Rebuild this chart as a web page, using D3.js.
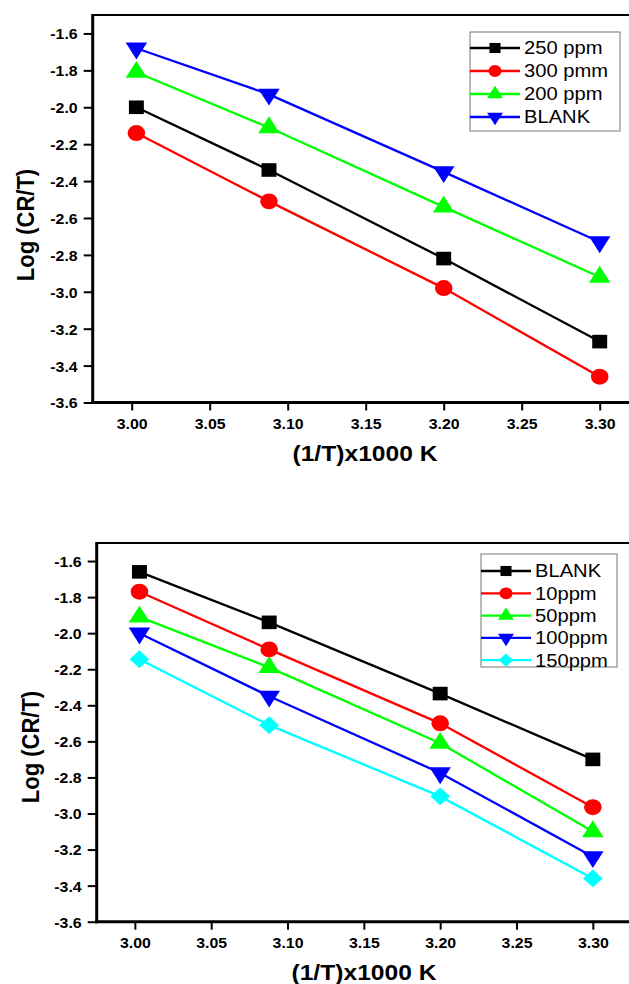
<!DOCTYPE html>
<html lang="en">
<head>
  <meta charset="UTF-8">
  <title>Log (CR/T) vs 1/T</title>
  <script src="https://d3js.org/d3.v7.min.js"></script>
  <style>
    body { margin: 0; background: #fff; }
    text { font-family: "Liberation Sans", Arial, sans-serif; }
  </style>
</head>
<body>
  <div id="root"></div>
  <script>
    // data
    const xValues = [3.003, 3.088, 3.2, 3.3]
    const xTicks = [3.00, 3.05, 3.10, 3.15, 3.20, 3.25, 3.30]
    const yTicks = [-1.6, -1.8, -2.0, -2.2, -2.4, -2.6, -2.8, -3.0, -3.2, -3.4, -3.6]

    // top chart
    const topNames = ['250 ppm', '300 pmm', '200 ppm', 'BLANK']
    const top250 = [-2.00, -2.34, -2.82, -3.27]
    const top300 = [-2.14, -2.51, -2.98, -3.46]
    const top200 = [-1.81, -2.11, -2.54, -2.92]
    const topBlank = [-1.68, -1.93, -2.35, -2.73]

    // bottom chart
    const bottomNames = ['BLANK', '10ppm', '50ppm', '100ppm', '150ppm']
    const botBlank = [-1.66, -1.94, -2.335, -2.70]
    const bot10 = [-1.77, -2.09, -2.50, -2.965]
    const bot50 = [-1.91, -2.19, -2.61, -3.10]
    const bot100 = [-2.00, -2.35, -2.775, -3.24]
    const bot150 = [-2.145, -2.51, -2.905, -3.36]

    const colors = ['#000000', '#ff0000', '#00ff00', '#0000ff', '#00ffff']
    const STRETCH = 1.12 // the picture is a bit wider than tall

    const svg = d3.select('#root')
      .append('svg')
      .attr('width', 629)
      .attr('height', 984)

    // marker shapes: square, circle, triangle up, triangle down, diamond
    const markers = [
      {type: d3.symbolSquare, size: 185, rot: 0},
      {type: d3.symbolCircle, size: 200, rot: 0},
      {type: d3.symbolTriangle, size: 165, rot: 0},
      {type: d3.symbolTriangle, size: 165, rot: 180},
      {type: d3.symbolSquare, size: 160, rot: 45}
    ]

    function drawPanel(cfg) {
      const x = d3.scaleLinear().domain([2.975, 3.325]).range([cfg.left, cfg.right])
      const y = d3.scaleLinear().domain([-3.6, -1.5]).range([cfg.bottom, cfg.top])
      const g = svg.append('g')

      // y axis
      const yAxisG = g.append('g')
        .attr('transform', `translate(${cfg.left},0)`)
        .call(d3.axisLeft(y).tickValues(yTicks).tickSize(9).tickSizeOuter(0).tickFormat(d => d.toFixed(1)))
      yAxisG.select('.domain').remove()
      yAxisG.selectAll('line').attr('stroke', '#000').attr('stroke-width', 2)
      yAxisG.selectAll('text')
        .attr('x', 0).attr('dy', '0.36em')
        .attr('transform', `translate(-15,0) scale(1.06,1)`)
        .attr('font-size', '15px').attr('font-weight', 'bold').attr('fill', '#000')

      // x axis
      const xAxisG = g.append('g')
        .attr('transform', `translate(0,${cfg.bottom})`)
        .call(d3.axisBottom(x).tickValues(xTicks).tickSize(8).tickSizeOuter(0).tickFormat(d => d.toFixed(2)))
      xAxisG.select('.domain').remove()
      xAxisG.selectAll('line').attr('stroke', '#000').attr('stroke-width', 2)
      xAxisG.selectAll('text')
        .attr('y', 0).attr('dy', 0)
        .attr('transform', `translate(0,26) scale(1.06,1)`)
        .attr('font-size', '15px').attr('font-weight', 'bold').attr('fill', '#000')

      // frame lines
      g.append('line').attr('x1', cfg.left).attr('x2', 640).attr('y1', cfg.top).attr('y2', cfg.top)
        .attr('stroke', '#000').attr('stroke-width', 2)
      g.append('line').attr('x1', cfg.left).attr('x2', cfg.left).attr('y1', cfg.top - 1).attr('y2', cfg.bottom + 1.5)
        .attr('stroke', '#000').attr('stroke-width', 3)
      g.append('line').attr('x1', cfg.left - 1.5).attr('x2', 640).attr('y1', cfg.bottom).attr('y2', cfg.bottom)
        .attr('stroke', '#000').attr('stroke-width', 3)

      // series
      const line = d3.line().x((d, i) => x(xValues[i])).y(d => y(d))
      cfg.series.forEach((vals, k) => {
        g.append('path').datum(vals)
          .attr('d', line)
          .attr('fill', 'none')
          .attr('stroke', colors[k])
          .attr('stroke-width', 2.3)
        const m = markers[k]
        g.selectAll(null).data(vals).enter()
          .append('path')
          .attr('d', d3.symbol().type(m.type).size(m.size))
          .attr('transform', (d, i) => `translate(${x(xValues[i])},${y(d)}) scale(1.1,1) rotate(${m.rot})`)
          .attr('fill', colors[k])
      })

      // legend
      const lg = cfg.legend
      g.append('rect')
        .attr('x', lg.x).attr('y', lg.y).attr('width', lg.w).attr('height', lg.h)
        .attr('fill', '#fff').attr('stroke', '#777').attr('stroke-width', 1)
      cfg.names.forEach((name, k) => {
        const ly = lg.row0 + k * lg.step
        g.append('line')
          .attr('x1', lg.x).attr('x2', lg.x + 50).attr('y1', ly).attr('y2', ly)
          .attr('stroke', colors[k]).attr('stroke-width', 2.3)
        const m = markers[k]
        g.append('path')
          .attr('d', d3.symbol().type(m.type).size(m.size * 0.55))
          .attr('transform', `translate(${lg.x + 25},${ly}) scale(1.1,1) rotate(${m.rot})`)
          .attr('fill', colors[k])
        g.append('text')
          .attr('transform', `translate(${lg.x + 54},${ly}) scale(${STRETCH},1)`)
          .attr('dy', '0.35em')
          .attr('font-size', '18px')
          .attr('fill', '#000')
          .text(name)
      })

      // axis titles
      g.append('text')
        .attr('transform', `translate(${cfg.yTitle[0]},${cfg.yTitle[1]}) scale(${STRETCH},1) rotate(-90)`)
        .attr('text-anchor', 'middle').attr('dy', '0.35em')
        .attr('font-size', '22px').attr('font-weight', 'bold')
        .text('Log (CR/T)')
      g.append('text')
        .attr('transform', `translate(${cfg.xTitle[0]},${cfg.xTitle[1]}) scale(${STRETCH},1)`)
        .attr('text-anchor', 'middle').attr('dy', '0.35em')
        .attr('font-size', '22px').attr('font-weight', 'bold')
        .text('(1/T)x1000 K')
    }

    drawPanel({
      left: 92.7, right: 638.7, top: 15, bottom: 402.5,
      series: [top250, top300, top200, topBlank],
      names: topNames,
      legend: {x: 470, y: 32, w: 150, h: 99, row0: 48, step: 23},
      yTitle: [25, 225],
      xTitle: [365, 453]
    })

    drawPanel({
      left: 96.7, right: 631, top: 543, bottom: 921.7,
      series: [botBlank, bot10, bot50, bot100, bot150],
      names: bottomNames,
      legend: {x: 481, y: 554, w: 136, h: 113, row0: 571, step: 22.3},
      yTitle: [30, 747],
      xTitle: [364, 972]
    })
  </script>
</body>
</html>
